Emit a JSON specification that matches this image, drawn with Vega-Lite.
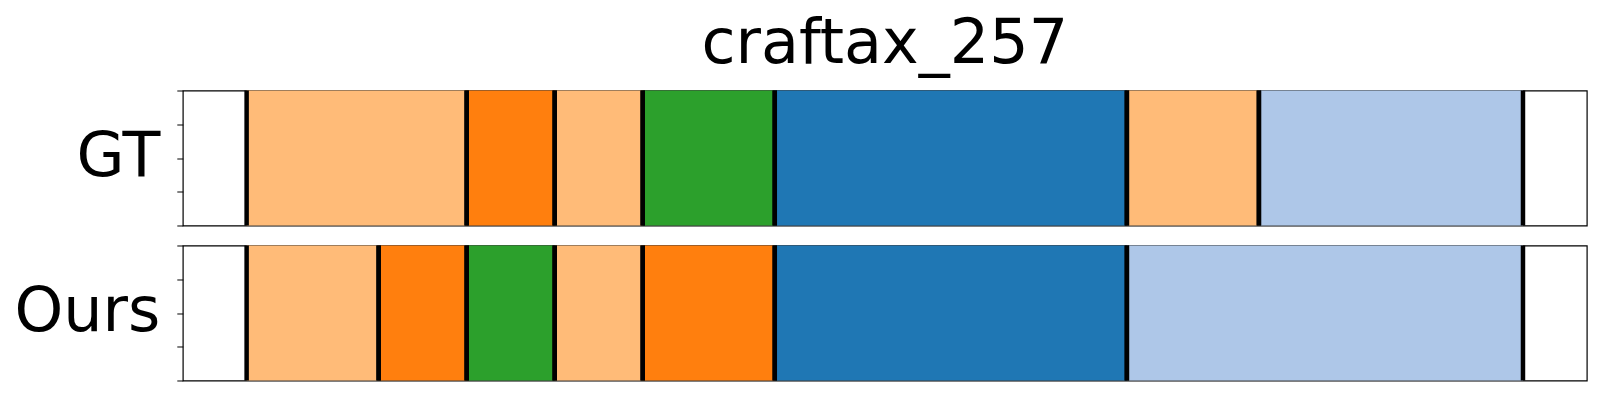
{
  "$schema": "https://vega.github.io/schema/vega-lite/v6.json",
  "background": "white",
  "padding": {"left": 12.8, "top": 12.5, "right": 0, "bottom": 0},
  "spacing": 14,
  "config": {
    "view": {"stroke": "black", "strokeWidth": 1.2},
    "font": "DejaVu Sans",
    "axis": {"grid": false, "domain": false, "labels": false, "tickColor": "black", "tickWidth": 1}
  },
  "datasets": {
    "segments": [
      {"row": "GT", "start": 0, "end": 5, "segment": "light orange"},
      {"row": "GT", "start": 5, "end": 7, "segment": "orange"},
      {"row": "GT", "start": 7, "end": 9, "segment": "light orange"},
      {"row": "GT", "start": 9, "end": 12, "segment": "green"},
      {"row": "GT", "start": 12, "end": 20, "segment": "blue"},
      {"row": "GT", "start": 20, "end": 23, "segment": "light orange"},
      {"row": "GT", "start": 23, "end": 29, "segment": "light blue"},
      {"row": "Ours", "start": 0, "end": 3, "segment": "light orange"},
      {"row": "Ours", "start": 3, "end": 5, "segment": "orange"},
      {"row": "Ours", "start": 5, "end": 7, "segment": "green"},
      {"row": "Ours", "start": 7, "end": 9, "segment": "light orange"},
      {"row": "Ours", "start": 9, "end": 12, "segment": "orange"},
      {"row": "Ours", "start": 12, "end": 20, "segment": "blue"},
      {"row": "Ours", "start": 20, "end": 29, "segment": "light blue"}
    ]
  },
  "vconcat": [
    {
      "width": 1404,
      "height": 135,
      "title": {"text": "craftax_257", "fontSize": 62, "font": "DejaVu Sans", "fontWeight": "normal", "anchor": "middle", "baseline": "alphabetic", "offset": -37, "color": "black"},
      "data": {"name": "segments"},
      "transform": [{"filter": "datum.row === 'GT'"}],
      "layer": [
        {
          "mark": {"type": "rect"},
          "encoding": {
            "x": {"field": "start", "type": "quantitative", "scale": {"domain": [-1.45, 30.45], "nice": false, "zero": false},
                  "axis": {"values": [0, 5.8, 11.6, 17.4, 23.2, 29], "title": null, "tickSize": 5}},
            "x2": {"field": "end"},
            "y": {"datum": 0, "type": "quantitative", "scale": {"domain": [0, 1], "nice": false},
                  "axis": {"values": [0, 0.25, 0.5, 0.75, 1], "tickSize": 6, "title": "GT", "titleAngle": 0, "titleFontSize": 62, "titleFont": "DejaVu Sans", "titleFontWeight": "normal", "titleColor": "black", "titleAlign": "right", "titleBaseline": "alphabetic", "titleX": -23, "titleY": 85}},
            "y2": {"datum": 1},
            "color": {"field": "segment", "type": "nominal", "legend": null,
                      "scale": {"domain": ["light orange", "orange", "green", "blue", "light blue"], "range": ["#ffbb78", "#ff7f0e", "#2ca02c", "#1f77b4", "#aec7e8"]}}
          }
        },
        {
          "mark": {"type": "rule", "strokeWidth": 4.5, "color": "black"},
          "encoding": {"x": {"field": "start", "type": "quantitative", "axis": null}}
        },
        {
          "mark": {"type": "rule", "strokeWidth": 4.5, "color": "black"},
          "encoding": {"x": {"field": "end", "type": "quantitative", "axis": null}}
        }
      ]
    },
    {
      "width": 1404,
      "height": 135,
      "data": {"name": "segments"},
      "transform": [{"filter": "datum.row === 'Ours'"}],
      "layer": [
        {
          "mark": {"type": "rect"},
          "encoding": {
            "x": {"field": "start", "type": "quantitative", "scale": {"domain": [-1.45, 30.45], "nice": false, "zero": false},
                  "axis": {"values": [0, 5.8, 11.6, 17.4, 23.2, 29], "title": null, "tickSize": 5}},
            "x2": {"field": "end"},
            "y": {"datum": 0, "type": "quantitative", "scale": {"domain": [0, 1], "nice": false},
                  "axis": {"values": [0, 0.25, 0.5, 0.75, 1], "tickSize": 6, "title": "Ours", "titleAngle": 0, "titleFontSize": 62, "titleFont": "DejaVu Sans", "titleFontWeight": "normal", "titleColor": "black", "titleAlign": "right", "titleBaseline": "alphabetic", "titleX": -23, "titleY": 85}},
            "y2": {"datum": 1},
            "color": {"field": "segment", "type": "nominal", "legend": null,
                      "scale": {"domain": ["light orange", "orange", "green", "blue", "light blue"], "range": ["#ffbb78", "#ff7f0e", "#2ca02c", "#1f77b4", "#aec7e8"]}}
          }
        },
        {
          "mark": {"type": "rule", "strokeWidth": 4.5, "color": "black"},
          "encoding": {"x": {"field": "start", "type": "quantitative", "axis": null}}
        },
        {
          "mark": {"type": "rule", "strokeWidth": 4.5, "color": "black"},
          "encoding": {"x": {"field": "end", "type": "quantitative", "axis": null}}
        }
      ]
    }
  ]
}
